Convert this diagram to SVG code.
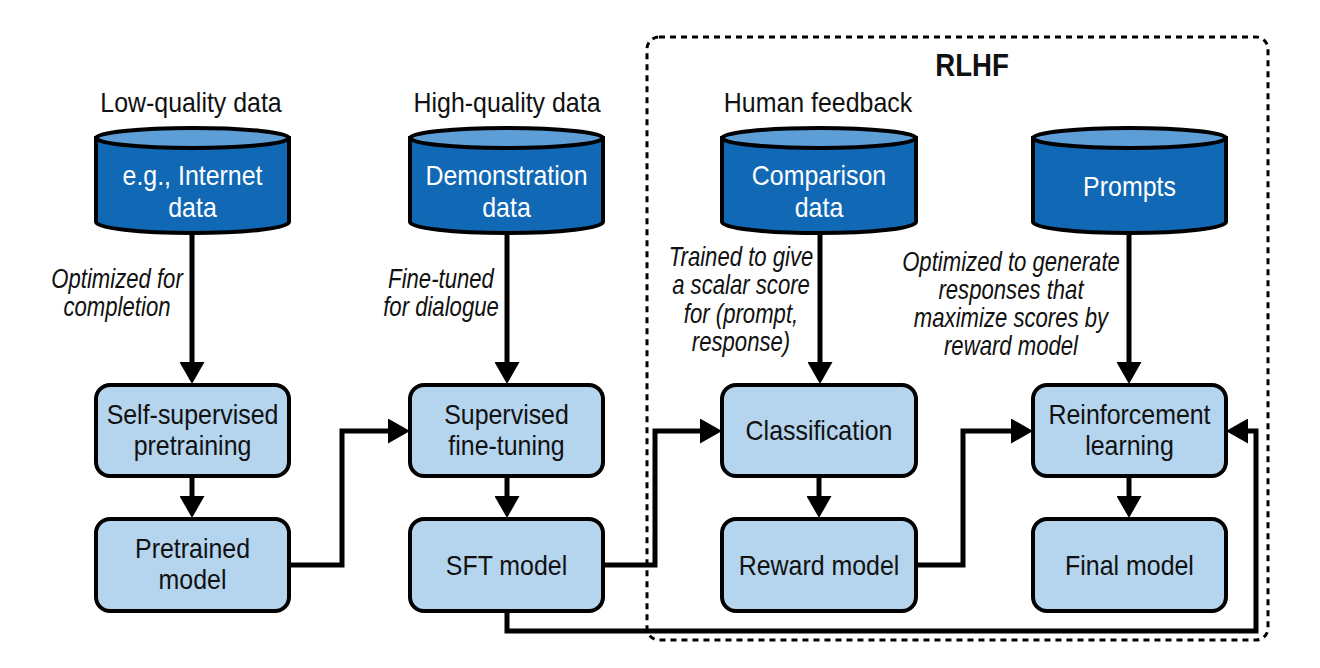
<svg xmlns="http://www.w3.org/2000/svg" width="1320" height="668" viewBox="0 0 1320 668">
<defs>
<marker id="ah" viewBox="0 -12.5 22 25" refX="0" refY="0" markerWidth="22" markerHeight="25" markerUnits="userSpaceOnUse" orient="auto"><path d="M0,-12.5 L22,0 L0,12.5 Z" fill="#000"/></marker>
</defs>
<style>
.t{font-family:"Liberation Sans",Arial,sans-serif;font-size:28px;fill:#111;text-anchor:middle}
.w{fill:#fff}
.i{font-style:italic;font-size:27px}
.h{font-weight:bold;font-size:31px}
.node{fill:#b5d4ed;stroke:#000;stroke-width:4}
.cyl{fill:#1168b5;stroke:#000;stroke-width:4}
.cyltop{fill:#5e9ed7;stroke:#000;stroke-width:4}
.con{fill:none;stroke:#000;stroke-width:5;marker-end:url(#ah)}
.rlhf{fill:none;stroke:#000;stroke-width:3;stroke-dasharray:6 5}
</style>
<rect width="1320" height="668" fill="#fff"/>

<g id="rlhf-box">
<rect class="rlhf" x="647" y="37" width="621" height="603" rx="12"/>
<text class="t h" transform="matrix(.89 0 0 1 972 0)" y="76">RLHF</text>
</g>

<g id="labels">
<text class="t" transform="matrix(.89 0 0 1 191 0)" y="112">Low-quality data</text>
<text class="t" transform="matrix(.89 0 0 1 507 0)" y="112">High-quality data</text>
<text class="t" transform="matrix(.89 0 0 1 818 0)" y="112">Human feedback</text>
</g>

<g id="notes">
<g transform="matrix(.82 0 0 1 117 0)">
<text class="t i" y="288">Optimized for</text>
<text class="t i" y="316">completion</text>
</g>
<g transform="matrix(.82 0 0 1 441 0)">
<text class="t i" y="288">Fine-tuned</text>
<text class="t i" y="316">for dialogue</text>
</g>
<g transform="matrix(.82 0 0 1 741 0)">
<text class="t i" y="266">Trained to give</text>
<text class="t i" y="294">a scalar score</text>
<text class="t i" y="323">for (prompt,</text>
<text class="t i" y="351">response)</text>
</g>
<g transform="matrix(.82 0 0 1 1011 0)">
<text class="t i" y="271">Optimized to generate</text>
<text class="t i" y="299">responses that</text>
<text class="t i" y="327">maximize scores by</text>
<text class="t i" y="355">reward model</text>
</g>
</g>

<g id="connectors">
<path class="con" d="M192,233 V362"/>
<path class="con" d="M507,233 V362"/>
<path class="con" d="M820,233 V362"/>
<path class="con" d="M1129,233 V362"/>
<path class="con" d="M192,478 V496"/>
<path class="con" d="M507,478 V496"/>
<path class="con" d="M819,478 V496"/>
<path class="con" d="M1129,478 V496"/>
<path class="con" d="M289,565 H342 V431 H388"/>
<path class="con" d="M603,565 H655 V431 H700"/>
<path class="con" d="M916,565 H963 V431 H1011"/>
<path class="con" d="M507,611 V631 H1256 V431 H1248"/>
</g>

<g id="db-internet">
<path class="cyl" d="M96,138 V222 A96.5,11 0 0 0 289,222 V138 Z"/>
<ellipse class="cyltop" cx="192.5" cy="138" rx="96.5" ry="10"/>
<g transform="matrix(.89 0 0 1 192.5 0)"><text class="t w" y="185">e.g., Internet</text><text class="t w" y="217">data</text></g>
</g>
<g id="db-demo">
<path class="cyl" d="M410,138 V222 A96.5,11 0 0 0 603,222 V138 Z"/>
<ellipse class="cyltop" cx="506.5" cy="138" rx="96.5" ry="10"/>
<g transform="matrix(.89 0 0 1 506.5 0)"><text class="t w" y="185">Demonstration</text><text class="t w" y="217">data</text></g>
</g>
<g id="db-comparison">
<path class="cyl" d="M722,138 V222 A96.5,11 0 0 0 916,222 V138 Z"/>
<ellipse class="cyltop" cx="819" cy="138" rx="97" ry="10"/>
<g transform="matrix(.89 0 0 1 819 0)"><text class="t w" y="185">Comparison</text><text class="t w" y="217">data</text></g>
</g>
<g id="db-prompts">
<path class="cyl" d="M1033,138 V222 A96.5,11 0 0 0 1226,222 V138 Z"/>
<ellipse class="cyltop" cx="1129.5" cy="138" rx="96.5" ry="10"/>
<g transform="matrix(.89 0 0 1 1129.5 0)"><text class="t w" y="196">Prompts</text></g>
</g>

<g id="n-sspt">
<rect class="node" x="96" y="385" width="193" height="91" rx="14"/>
<g transform="matrix(.89 0 0 1 192.5 0)"><text class="t" y="424">Self-supervised</text><text class="t" y="455">pretraining</text></g>
</g>
<g id="n-pretrained">
<rect class="node" x="96" y="519" width="193" height="92" rx="14"/>
<g transform="matrix(.89 0 0 1 192.5 0)"><text class="t" y="558">Pretrained</text><text class="t" y="589">model</text></g>
</g>
<g id="n-sft">
<rect class="node" x="410" y="385" width="193" height="91" rx="14"/>
<g transform="matrix(.89 0 0 1 506.5 0)"><text class="t" y="424">Supervised</text><text class="t" y="455">fine-tuning</text></g>
</g>
<g id="n-sftmodel">
<rect class="node" x="410" y="519" width="193" height="92" rx="14"/>
<g transform="matrix(.89 0 0 1 506.5 0)"><text class="t" y="575">SFT model</text></g>
</g>
<g id="n-class">
<rect class="node" x="722" y="385" width="194" height="91" rx="14"/>
<g transform="matrix(.89 0 0 1 819 0)"><text class="t" y="440">Classification</text></g>
</g>
<g id="n-reward">
<rect class="node" x="722" y="519" width="194" height="92" rx="14"/>
<g transform="matrix(.89 0 0 1 819 0)"><text class="t" y="575">Reward model</text></g>
</g>
<g id="n-rl">
<rect class="node" x="1033" y="385" width="193" height="91" rx="14"/>
<g transform="matrix(.89 0 0 1 1129.5 0)"><text class="t" y="424">Reinforcement</text><text class="t" y="455">learning</text></g>
</g>
<g id="n-final">
<rect class="node" x="1033" y="519" width="193" height="92" rx="14"/>
<g transform="matrix(.89 0 0 1 1129.5 0)"><text class="t" y="575">Final model</text></g>
</g>
</svg>
